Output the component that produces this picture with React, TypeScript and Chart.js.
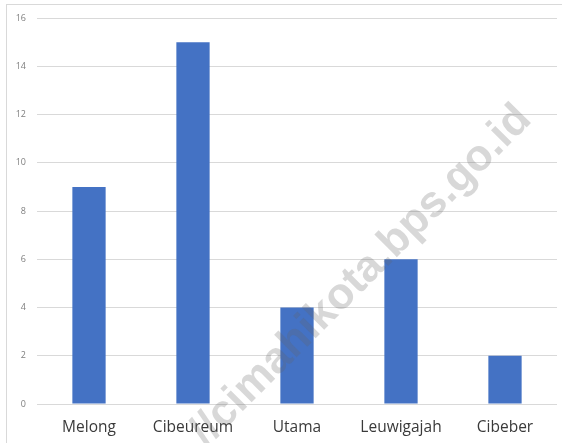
import React, { useEffect, useRef } from "react";
import { Chart, registerables } from "chart.js";

Chart.register(...registerables);

const categories = ["Melong", "Cibeureum", "Utama", "Leuwigajah", "Cibeber"];
const values = [9, 15, 4, 6, 2];
const yMin = 0;
const yMax = 16;
const yStep = 2;
const watermarkText = "//cimahikota.bps.go.id";

const watermarkPlugin = {
  id: "watermark",
  afterDraw(chart: any) {
    const ctx = chart.ctx;
    ctx.save();
    ctx.translate(533, 121);
    ctx.rotate(-Math.PI / 4);
    ctx.font = "bold 44px 'Liberation Sans', Arial, sans-serif";
    ctx.textAlign = "right";
    ctx.textBaseline = "alphabetic";
    ctx.fillStyle = "rgba(100,100,100,0.25)";
    ctx.fillText(watermarkText, 0, 0);
    ctx.restore();
  },
};

export default function App() {
  const ref = useRef<HTMLCanvasElement>(null);

  useEffect(() => {
    if (!ref.current) return;
    const chart = new Chart(ref.current, {
      type: "bar",
      data: {
        labels: categories,
        datasets: [
          {
            data: values,
            backgroundColor: "#4472C4",
            borderWidth: 0,
            categoryPercentage: 1,
            barPercentage: 0.32,
          },
        ],
      },
      options: {
        animation: false,
        responsive: false,
        maintainAspectRatio: false,
        layout: { padding: { left: 0, right: 5, top: 18, bottom: 0 } },
        plugins: {
          legend: { display: false },
          tooltip: { enabled: false },
          title: { display: false },
        },
        scales: {
          x: {
            grid: { display: false, drawTicks: false },
            border: { display: false },
            ticks: {
              padding: 14,
              color: "#3a3a3a",
              font: { family: "'Open Sans', sans-serif", size: 15.5 },
              maxRotation: 0,
            },
            afterFit(scale: any) {
              scale.height = 39;
            },
          },
          y: {
            min: yMin,
            max: yMax,
            grid: { color: "#d9d9d9", lineWidth: 1, drawTicks: false },
            border: { display: false },
            ticks: {
              stepSize: yStep,
              padding: 11,
              color: "#7f7f7f",
              font: { family: "'Open Sans', sans-serif", size: 9 },
            },
            afterFit(scale: any) {
              scale.width = 37;
            },
          },
        },
      },
      plugins: [watermarkPlugin],
    });
    return () => chart.destroy();
  }, []);

  return (
    <div
      style={{
        position: "fixed",
        left: 0,
        top: 0,
        width: 562,
        height: 443,
        background: "#ffffff",
        overflow: "hidden",
      }}
    >
      <div
        style={{
          position: "absolute",
          left: 6,
          top: 4,
          width: 600,
          height: 500,
          border: "1px solid #d9d9d9",
        }}
      />
      <canvas
        ref={ref}
        width={562}
        height={443}
        style={{ position: "absolute", left: 0, top: 0, width: 562, height: 443 }}
      />
    </div>
  );
}
